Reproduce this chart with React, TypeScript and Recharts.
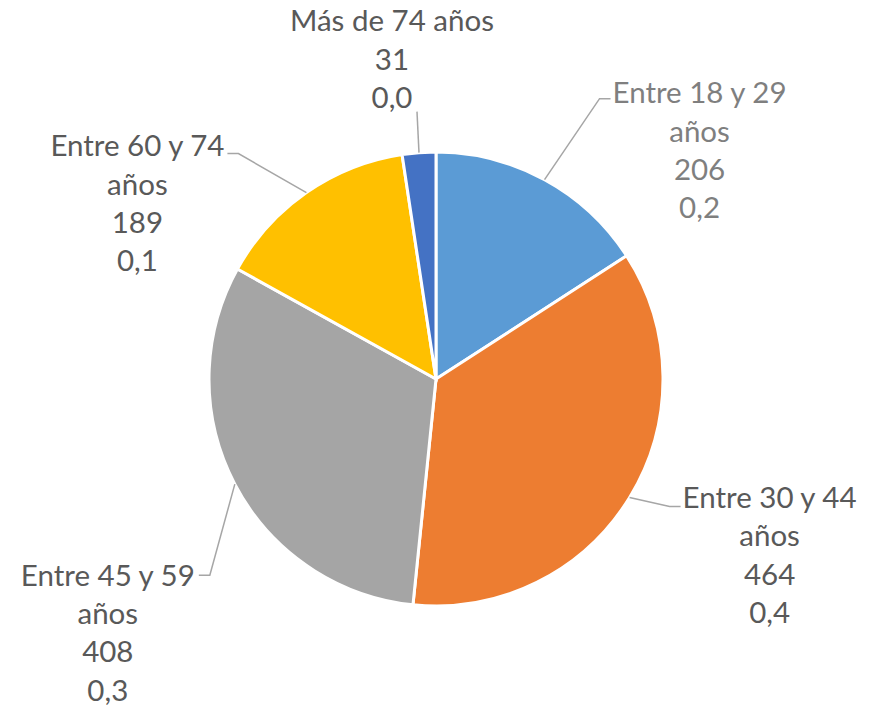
import React from 'react';
import { PieChart, Pie, Cell } from 'recharts';

// grupos de edad y número de personas
const categories = [
  'Entre 18 y 29 años',
  'Entre 30 y 44 años',
  'Entre 45 y 59 años',
  'Entre 60 y 74 años',
  'Más de 74 años',
];
const values = [206, 464, 408, 189, 31];
const colors = ['#5b9bd5', '#ed7d31', '#a5a5a5', '#ffc000', '#4472c4'];

// posición de cada etiqueta respecto al borde del sector (como Excel)
const labelLayout = [
  { bend: [55, -81], stub: 11, textDx: 89, textDy: -7, wrap: true, color: '#7f7f7f' },
  { bend: [40, 9], stub: 11, textDx: 89, textDy: -10, wrap: true, color: '#595959' },
  { bend: [-25, 91], stub: -11, textDx: -91, textDy: -1, wrap: true, color: '#595959' },
  { bend: [-68, -39], stub: -11, textDx: -90, textDy: -9, wrap: true, color: '#595959' },
  { bend: [-2, -41], stub: 0, textDx: -25, textDy: -92, wrap: false, color: '#595959' },
];

const total = values.reduce((a, b) => a + b, 0);
const data = categories.map((name, i) => ({ name, value: values[i] }));

const RAD = Math.PI / 180;
const LINE_H = 38.4;
const FONT = 'Lato, sans-serif';

const renderLabel = (props: any) => {
  const { cx, cy, midAngle, outerRadius, index, value, name } = props;
  const lay = labelLayout[index];
  const sx = cx + outerRadius * Math.cos(-midAngle * RAD);
  const sy = cy + outerRadius * Math.sin(-midAngle * RAD);
  const bx = sx + lay.bend[0];
  const by = sy + lay.bend[1];
  const ex = bx + lay.stub;

  const lines = lay.wrap ? [name.replace(' años', ''), 'años'] : [name];
  lines.push(String(value));
  lines.push((value / total).toFixed(1).replace('.', ','));

  const tx = ex + lay.textDx;
  const ty = by + lay.textDy;
  const pts = `${sx},${sy} ${bx},${by} ${ex},${by}`;

  return (
    <g key={`lbl-${index}`}>
      <polyline points={pts} fill="none" stroke="#a6a6a6" strokeWidth={1.5} />
      {lines.map((t, k) => (
        <text
          key={k}
          x={tx}
          y={ty + k * LINE_H}
          textAnchor="middle"
          dominantBaseline="central"
          fill={lay.color}
          fontSize={29.5}
          fontFamily={FONT}
        >
          {t}
        </text>
      ))}
    </g>
  );
};

export default function App() {
  return (
    <div style={{ width: 874, height: 705, background: '#fff' }}>
      <style>{'body{margin:0}'}</style>
      <PieChart width={874} height={705} margin={{ top: 0, right: 0, bottom: 0, left: 0 }}>
        <Pie
          data={data}
          dataKey="value"
          nameKey="name"
          cx={436}
          cy={379}
          outerRadius={227}
          startAngle={90}
          endAngle={-270}
          stroke="#ffffff"
          strokeWidth={3}
          label={renderLabel}
          labelLine={false}
          isAnimationActive={false}
        >
          {data.map((d, i) => (
            <Cell key={d.name} fill={colors[i]} />
          ))}
        </Pie>
      </PieChart>
    </div>
  );
}
